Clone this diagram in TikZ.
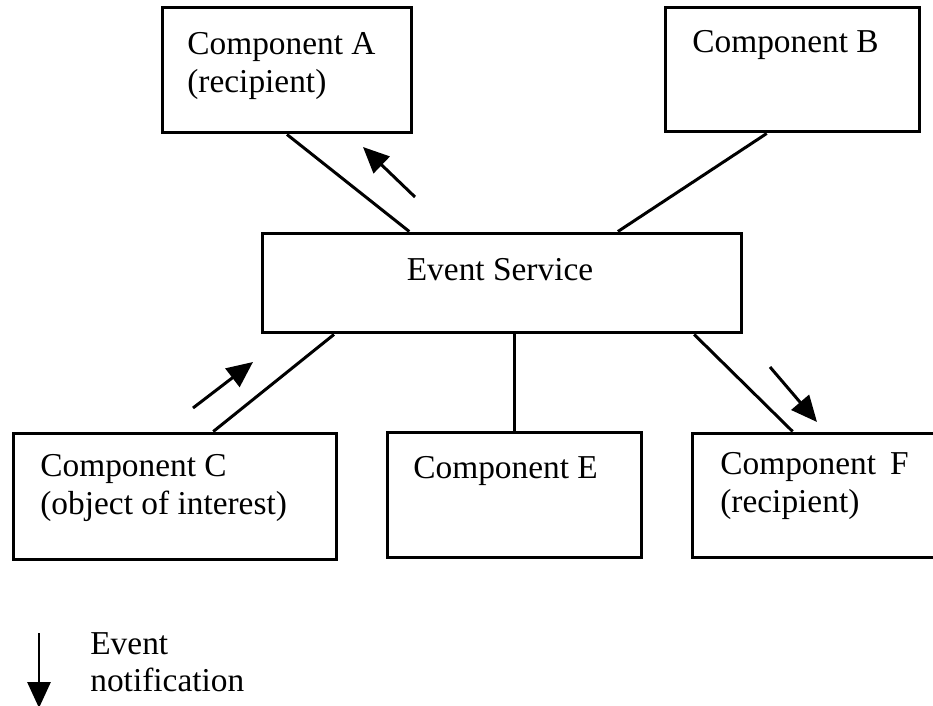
\documentclass[tikz,border=0pt]{standalone}
\usepackage{fontspec}
\setmainfont{Liberation Serif}
\usetikzlibrary{arrows.meta,calc}
\begin{document}
\begin{tikzpicture}[x=0.02cm, y=-0.02cm]
      \tikzset{comp/.style={draw, line width=1.7pt, rectangle, inner sep=0pt},
               txt/.style={inner sep=0pt, align=left, font=\fontsize{19}{21.5}\selectfont},
               link/.style={line width=1.7pt},
               notify/.style={line width=1.7pt, -{Triangle[length=0.52cm, width=0.46cm]}}}
      \clip (0,0) rectangle (933,706);
%% Boxes
      	\node[comp, minimum width=5cm, minimum height=2.52cm] (a) at (287,70) {};
      	\node[comp, minimum width=5.1cm, minimum height=2.5cm] (b) at (792.5,69.5) {};
      	\node[comp, minimum width=9.6cm, minimum height=2cm] (es) at (502,283) {};
      	\node[comp, minimum width=6.48cm, minimum height=2.54cm] (c) at (175,496.5) {};
      	\node[comp, minimum width=5.1cm, minimum height=2.52cm] (e) at (514.5,495) {};
      	\node[comp, minimum width=5.36cm, minimum height=2.5cm] (f) at (826,495.5) {};
%% Texts
      	\node[txt, anchor=north west] (atxt) at (187,32) {Component A\\(recipient)};
      	\node[txt, anchor=north west] (btxt) at (692,30) {Component B};
      	\node[txt, anchor=base] (estxt) at (500,280) {Event Service};
      	\node[txt, anchor=north west] (ctxt) at (40,454) {Component C\\(object of interest)};
      	\node[txt, anchor=base west] (etxt) at (413,478) {Component E};
      	\node[txt, anchor=north west] (ftxt) at (720,452) {Component\ \,F\\(recipient)};
      	\node[txt, anchor=north west] (legtxt) at (90,632) {Event\\notification};
%% Links
      	\draw[link] (a.south) -- ($(es.north west)!0.308!(es.north east)$);
      	\draw[link] ($(b.south west)!0.4!(b.south east)$) -- ($(es.north west)!0.74!(es.north east)$);
      	\draw[link] ($(es.south west)!0.152!(es.south east)$) -- ($(c.north west)!0.617!(c.north east)$);
      	\draw[link] (e.north |- es.south) -- (e.north);
      	\draw[link] ($(es.south west)!0.898!(es.south east)$) -- ($(f.north west)!0.377!(f.north east)$);
%% Notifications
      	\coordinate (n1s) at (415,197); \coordinate (n1e) at (363,147);
      	\coordinate (n2s) at (193,408); \coordinate (n2e) at (253,362);
      	\coordinate (n3s) at (770,367); \coordinate (n3e) at (817,422);
      	\coordinate (legs) at (39,633); \coordinate (lege) at (39,708);
      	\draw[notify] (n1s) -- (n1e);
      	\draw[notify] (n2s) -- (n2e);
      	\draw[notify] (n3s) -- (n3e);
      	\draw[notify] (legs) -- (lege);
\end{tikzpicture}
\end{document}
